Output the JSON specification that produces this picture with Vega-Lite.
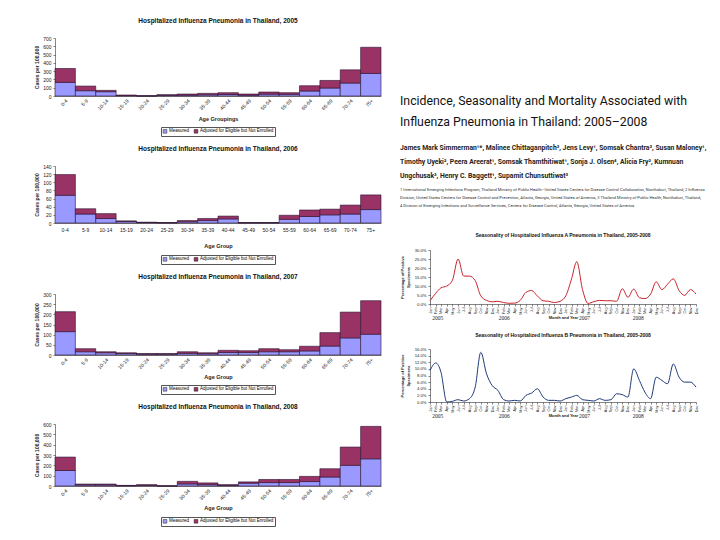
{
  "$schema": "https://vega.github.io/schema/vega-lite/v6.json",
  "background": "white",
  "padding": {"left": 34, "top": 17, "right": 4, "bottom": 4},
  "config": {
    "font": "Liberation Sans",
    "view": {"stroke": null},
    "axis": {"grid": false, "domainColor": "#333", "tickColor": "#333", "labelColor": "#222", "titleColor": "#222", "domainWidth": 0.6, "tickWidth": 0.6},
    "title": {"color": "#111"},
    "legend": {"title": null, "orient": "bottom", "direction": "horizontal", "labelFontSize": 4.5, "symbolType": "square", "symbolSize": 14, "symbolStrokeWidth": 0.5, "symbolStrokeColor": "#222", "strokeColor": "#555", "padding": 1.5, "columnPadding": 3, "labelOffset": 1.5,
               "layout": {"bottom": {"anchor": "middle"}}}
  },
  "datasets": {
    "ages": [
      {"year": 2005, "age": "0-4", "Measured": 164, "Adjusted for Eligible but Not Enrolled": 168},
      {"year": 2005, "age": "5-9", "Measured": 64, "Adjusted for Eligible but Not Enrolled": 56},
      {"year": 2005, "age": "10-14", "Measured": 52, "Adjusted for Eligible but Not Enrolled": 16},
      {"year": 2005, "age": "15-19", "Measured": 5, "Adjusted for Eligible but Not Enrolled": 7},
      {"year": 2005, "age": "20-24", "Measured": 1, "Adjusted for Eligible but Not Enrolled": 1},
      {"year": 2005, "age": "25-29", "Measured": 8, "Adjusted for Eligible but Not Enrolled": 8},
      {"year": 2005, "age": "30-34", "Measured": 10, "Adjusted for Eligible but Not Enrolled": 14},
      {"year": 2005, "age": "35-39", "Measured": 14, "Adjusted for Eligible but Not Enrolled": 18},
      {"year": 2005, "age": "40-44", "Measured": 18, "Adjusted for Eligible but Not Enrolled": 22},
      {"year": 2005, "age": "45-49", "Measured": 10, "Adjusted for Eligible but Not Enrolled": 14},
      {"year": 2005, "age": "50-54", "Measured": 22, "Adjusted for Eligible but Not Enrolled": 26},
      {"year": 2005, "age": "55-59", "Measured": 20, "Adjusted for Eligible but Not Enrolled": 20},
      {"year": 2005, "age": "60-64", "Measured": 60, "Adjusted for Eligible but Not Enrolled": 64},
      {"year": 2005, "age": "65-69", "Measured": 96, "Adjusted for Eligible but Not Enrolled": 92},
      {"year": 2005, "age": "70-74", "Measured": 156, "Adjusted for Eligible but Not Enrolled": 160},
      {"year": 2005, "age": "75+", "Measured": 272, "Adjusted for Eligible but Not Enrolled": 316},
      {"year": 2006, "age": "0-4", "Measured": 68, "Adjusted for Eligible but Not Enrolled": 51},
      {"year": 2006, "age": "5-9", "Measured": 22, "Adjusted for Eligible but Not Enrolled": 13},
      {"year": 2006, "age": "10-14", "Measured": 11, "Adjusted for Eligible but Not Enrolled": 12},
      {"year": 2006, "age": "15-19", "Measured": 4, "Adjusted for Eligible but Not Enrolled": 1},
      {"year": 2006, "age": "20-24", "Measured": 1, "Adjusted for Eligible but Not Enrolled": 1},
      {"year": 2006, "age": "25-29", "Measured": 0.5, "Adjusted for Eligible but Not Enrolled": 0.5},
      {"year": 2006, "age": "30-34", "Measured": 3, "Adjusted for Eligible but Not Enrolled": 3},
      {"year": 2006, "age": "35-39", "Measured": 6, "Adjusted for Eligible but Not Enrolled": 5},
      {"year": 2006, "age": "40-44", "Measured": 10, "Adjusted for Eligible but Not Enrolled": 7},
      {"year": 2006, "age": "45-49", "Measured": 0.5, "Adjusted for Eligible but Not Enrolled": 0.5},
      {"year": 2006, "age": "50-54", "Measured": 0.5, "Adjusted for Eligible but Not Enrolled": 0.5},
      {"year": 2006, "age": "55-59", "Measured": 9, "Adjusted for Eligible but Not Enrolled": 10},
      {"year": 2006, "age": "60-64", "Measured": 16, "Adjusted for Eligible but Not Enrolled": 16},
      {"year": 2006, "age": "65-69", "Measured": 20, "Adjusted for Eligible but Not Enrolled": 14},
      {"year": 2006, "age": "70-74", "Measured": 22, "Adjusted for Eligible but Not Enrolled": 22},
      {"year": 2006, "age": "75+", "Measured": 33, "Adjusted for Eligible but Not Enrolled": 36},
      {"year": 2007, "age": "0-4", "Measured": 115, "Adjusted for Eligible but Not Enrolled": 98},
      {"year": 2007, "age": "5-9", "Measured": 16, "Adjusted for Eligible but Not Enrolled": 15},
      {"year": 2007, "age": "10-14", "Measured": 11, "Adjusted for Eligible but Not Enrolled": 5},
      {"year": 2007, "age": "15-19", "Measured": 7, "Adjusted for Eligible but Not Enrolled": 4},
      {"year": 2007, "age": "20-24", "Measured": 4, "Adjusted for Eligible but Not Enrolled": 3},
      {"year": 2007, "age": "25-29", "Measured": 4, "Adjusted for Eligible but Not Enrolled": 3},
      {"year": 2007, "age": "30-34", "Measured": 8, "Adjusted for Eligible but Not Enrolled": 8},
      {"year": 2007, "age": "35-39", "Measured": 6, "Adjusted for Eligible but Not Enrolled": 5},
      {"year": 2007, "age": "40-44", "Measured": 12, "Adjusted for Eligible but Not Enrolled": 11},
      {"year": 2007, "age": "45-49", "Measured": 12, "Adjusted for Eligible but Not Enrolled": 9},
      {"year": 2007, "age": "50-54", "Measured": 16, "Adjusted for Eligible but Not Enrolled": 15},
      {"year": 2007, "age": "55-59", "Measured": 16, "Adjusted for Eligible but Not Enrolled": 10},
      {"year": 2007, "age": "60-64", "Measured": 20, "Adjusted for Eligible but Not Enrolled": 23},
      {"year": 2007, "age": "65-69", "Measured": 44, "Adjusted for Eligible but Not Enrolled": 66},
      {"year": 2007, "age": "70-74", "Measured": 84, "Adjusted for Eligible but Not Enrolled": 127},
      {"year": 2007, "age": "75+", "Measured": 102, "Adjusted for Eligible but Not Enrolled": 165},
      {"year": 2008, "age": "0-4", "Measured": 150, "Adjusted for Eligible but Not Enrolled": 130},
      {"year": 2008, "age": "5-9", "Measured": 10, "Adjusted for Eligible but Not Enrolled": 9},
      {"year": 2008, "age": "10-14", "Measured": 10, "Adjusted for Eligible but Not Enrolled": 9},
      {"year": 2008, "age": "15-19", "Measured": 3, "Adjusted for Eligible but Not Enrolled": 3},
      {"year": 2008, "age": "20-24", "Measured": 6, "Adjusted for Eligible but Not Enrolled": 7},
      {"year": 2008, "age": "25-29", "Measured": 0.5, "Adjusted for Eligible but Not Enrolled": 0.5},
      {"year": 2008, "age": "30-34", "Measured": 20, "Adjusted for Eligible but Not Enrolled": 25},
      {"year": 2008, "age": "35-39", "Measured": 13, "Adjusted for Eligible but Not Enrolled": 17},
      {"year": 2008, "age": "40-44", "Measured": 6, "Adjusted for Eligible but Not Enrolled": 7},
      {"year": 2008, "age": "45-49", "Measured": 27, "Adjusted for Eligible but Not Enrolled": 13},
      {"year": 2008, "age": "50-54", "Measured": 33, "Adjusted for Eligible but Not Enrolled": 30},
      {"year": 2008, "age": "55-59", "Measured": 33, "Adjusted for Eligible but Not Enrolled": 30},
      {"year": 2008, "age": "60-64", "Measured": 43, "Adjusted for Eligible but Not Enrolled": 50},
      {"year": 2008, "age": "65-69", "Measured": 87, "Adjusted for Eligible but Not Enrolled": 80},
      {"year": 2008, "age": "70-74", "Measured": 200, "Adjusted for Eligible but Not Enrolled": 177},
      {"year": 2008, "age": "75+", "Measured": 263, "Adjusted for Eligible but Not Enrolled": 314}
    ],
    "season": [
      {"month": "2005-01-01", "fluA": 1.8, "fluB": 9.5},
      {"month": "2005-02-01", "fluA": 6, "fluB": 11.8},
      {"month": "2005-03-01", "fluA": 9, "fluB": 9},
      {"month": "2005-04-01", "fluA": 10, "fluB": 0},
      {"month": "2005-05-01", "fluA": 13, "fluB": 0.2},
      {"month": "2005-06-01", "fluA": 25, "fluB": 0.7},
      {"month": "2005-07-01", "fluA": 15.5, "fluB": 0.3},
      {"month": "2005-08-01", "fluA": 15.5, "fluB": 1},
      {"month": "2005-09-01", "fluA": 13, "fluB": 4.5},
      {"month": "2005-10-01", "fluA": 4.5, "fluB": 15},
      {"month": "2005-11-01", "fluA": 2, "fluB": 8.5},
      {"month": "2005-12-01", "fluA": 1.2, "fluB": 5},
      {"month": "2006-01-01", "fluA": 1.5, "fluB": 3.5},
      {"month": "2006-02-01", "fluA": 0.8, "fluB": 0.7},
      {"month": "2006-03-01", "fluA": 0.4, "fluB": 0.3},
      {"month": "2006-04-01", "fluA": 0.5, "fluB": 0.5},
      {"month": "2006-05-01", "fluA": 2, "fluB": 0.3},
      {"month": "2006-06-01", "fluA": 6.5, "fluB": 2},
      {"month": "2006-07-01", "fluA": 7.5, "fluB": 2.7},
      {"month": "2006-08-01", "fluA": 4.5, "fluB": 4},
      {"month": "2006-09-01", "fluA": 1.8, "fluB": 1.5},
      {"month": "2006-10-01", "fluA": 1.5, "fluB": 0.5},
      {"month": "2006-11-01", "fluA": 0.8, "fluB": 0.5},
      {"month": "2006-12-01", "fluA": 1.5, "fluB": 0.3},
      {"month": "2007-01-01", "fluA": 4.5, "fluB": 1},
      {"month": "2007-02-01", "fluA": 14, "fluB": 1.5},
      {"month": "2007-03-01", "fluA": 23.5, "fluB": 2},
      {"month": "2007-04-01", "fluA": 8, "fluB": 0.7},
      {"month": "2007-05-01", "fluA": 0.3, "fluB": 0.5},
      {"month": "2007-06-01", "fluA": 1.3, "fluB": 0.3},
      {"month": "2007-07-01", "fluA": 2, "fluB": 1},
      {"month": "2007-08-01", "fluA": 1.8, "fluB": 0.5},
      {"month": "2007-09-01", "fluA": 1.8, "fluB": 0.7},
      {"month": "2007-10-01", "fluA": 1.5, "fluB": 2.5},
      {"month": "2007-11-01", "fluA": 8.5, "fluB": 2.2},
      {"month": "2007-12-01", "fluA": 3.7, "fluB": 1.5},
      {"month": "2008-01-01", "fluA": 8.3, "fluB": 10},
      {"month": "2008-02-01", "fluA": 3.5, "fluB": 6.5},
      {"month": "2008-03-01", "fluA": 3, "fluB": 3},
      {"month": "2008-04-01", "fluA": 5.5, "fluB": 1},
      {"month": "2008-05-01", "fluA": 12.3, "fluB": 7.5},
      {"month": "2008-06-01", "fluA": 8, "fluB": 6.5},
      {"month": "2008-07-01", "fluA": 11, "fluB": 5.5},
      {"month": "2008-08-01", "fluA": 14, "fluB": 11.5},
      {"month": "2008-09-01", "fluA": 7.5, "fluB": 7.5},
      {"month": "2008-10-01", "fluA": 4.8, "fluB": 6},
      {"month": "2008-11-01", "fluA": 8, "fluB": 6},
      {"month": "2008-12-01", "fluA": 5.5, "fluB": 4.5}
    ],
    "years": [
      {"month": "2005-02-12", "year": "2005"},
      {"month": "2006-02-04", "year": "2006"},
      {"month": "2007-04-12", "year": "2007"},
      {"month": "2008-01-25", "year": "2008"}
    ]
  },
  "spacing": 18,
  "hconcat": [
    {
      "spacing": 8,
      "resolve": {"scale": {"color": "independent"}, "legend": {"color": "independent"}},
      "vconcat": [
        {
          "data": {"name": "ages"},
          "transform": [{"filter": "datum.year == 2005"}, {"fold": ["Measured", "Adjusted for Eligible but Not Enrolled"], "as": ["part", "value"]}],
          "width": 326, "height": 58,
          "title": {"text": "Hospitalized Influenza Pneumonia in Thailand, 2005", "fontSize": 6.5, "fontWeight": "bold", "offset": 12},
          "mark": {"type": "bar", "stroke": "#2a1030", "strokeWidth": 0.6},
          "encoding": {
            "x": {"field": "age", "type": "ordinal", "sort": null, "scale": {"paddingInner": 0, "paddingOuter": 0},
                  "axis": {"title": "Age Groupings", "labelAngle": -45, "labelFontSize": 5, "titleFontSize": 5.5, "titleFontWeight": "bold", "ticks": false, "labelPadding": 2, "titlePadding": 6}},
            "y": {"field": "value", "type": "quantitative", "stack": "zero", "scale": {"domain": [0, 700]},
                  "axis": {"tickCount": 7, "title": "Cases per 100,000", "labelFontSize": 5, "titleFontSize": 5, "titleFontWeight": "bold", "tickSize": 2, "labelPadding": 2, "titlePadding": 3}},
            "color": {"field": "part", "type": "nominal", "scale": {"domain": ["Measured", "Adjusted for Eligible but Not Enrolled"], "range": ["#9999FF", "#993366"]}, "legend": {"offset": 4}},
            "order": {"field": "part", "sort": "descending"}
          }
        },
        {
          "data": {"name": "ages"},
          "transform": [{"filter": "datum.year == 2006"}, {"fold": ["Measured", "Adjusted for Eligible but Not Enrolled"], "as": ["part", "value"]}],
          "width": 326, "height": 57,
          "title": {"text": "Hospitalized Influenza Pneumonia in Thailand, 2006", "fontSize": 6.5, "fontWeight": "bold", "offset": 12},
          "mark": {"type": "bar", "stroke": "#2a1030", "strokeWidth": 0.6},
          "encoding": {
            "x": {"field": "age", "type": "ordinal", "sort": null, "scale": {"paddingInner": 0, "paddingOuter": 0},
                  "axis": {"title": "Age Group", "labelAngle": 0, "labelFontSize": 5, "titleFontSize": 5.5, "titleFontWeight": "bold", "ticks": false, "labelPadding": 4, "titlePadding": 11}},
            "y": {"field": "value", "type": "quantitative", "stack": "zero", "scale": {"domain": [0, 140]},
                  "axis": {"tickCount": 7, "title": "Cases per 100,000", "labelFontSize": 5, "titleFontSize": 5, "titleFontWeight": "bold", "tickSize": 2, "labelPadding": 2, "titlePadding": 3}},
            "color": {"field": "part", "type": "nominal", "scale": {"domain": ["Measured", "Adjusted for Eligible but Not Enrolled"], "range": ["#9999FF", "#993366"]}, "legend": {"offset": 6}},
            "order": {"field": "part", "sort": "descending"}
          }
        },
        {
          "data": {"name": "ages"},
          "transform": [{"filter": "datum.year == 2007"}, {"fold": ["Measured", "Adjusted for Eligible but Not Enrolled"], "as": ["part", "value"]}],
          "width": 326, "height": 61,
          "title": {"text": "Hospitalized Influenza Pneumonia in Thailand, 2007", "fontSize": 6.5, "fontWeight": "bold", "offset": 12},
          "mark": {"type": "bar", "stroke": "#2a1030", "strokeWidth": 0.6},
          "encoding": {
            "x": {"field": "age", "type": "ordinal", "sort": null, "scale": {"paddingInner": 0, "paddingOuter": 0},
                  "axis": {"title": "Age Group", "labelAngle": -45, "labelFontSize": 5, "titleFontSize": 5.5, "titleFontWeight": "bold", "ticks": false, "labelPadding": 2, "titlePadding": 5}},
            "y": {"field": "value", "type": "quantitative", "stack": "zero", "scale": {"domain": [0, 300]},
                  "axis": {"tickCount": 6, "title": "Cases per 100,000", "labelFontSize": 5, "titleFontSize": 5, "titleFontWeight": "bold", "tickSize": 2, "labelPadding": 2, "titlePadding": 3}},
            "color": {"field": "part", "type": "nominal", "scale": {"domain": ["Measured", "Adjusted for Eligible but Not Enrolled"], "range": ["#9999FF", "#993366"]}, "legend": {"offset": 4}},
            "order": {"field": "part", "sort": "descending"}
          }
        },
        {
          "data": {"name": "ages"},
          "transform": [{"filter": "datum.year == 2008"}, {"fold": ["Measured", "Adjusted for Eligible but Not Enrolled"], "as": ["part", "value"]}],
          "width": 326, "height": 62,
          "title": {"text": "Hospitalized Influenza Pneumonia in Thailand, 2008", "fontSize": 6.5, "fontWeight": "bold", "offset": 12},
          "mark": {"type": "bar", "stroke": "#2a1030", "strokeWidth": 0.6},
          "encoding": {
            "x": {"field": "age", "type": "ordinal", "sort": null, "scale": {"paddingInner": 0, "paddingOuter": 0},
                  "axis": {"title": "Age Group", "labelAngle": -45, "labelFontSize": 5, "titleFontSize": 5.5, "titleFontWeight": "bold", "ticks": false, "labelPadding": 2, "titlePadding": 5}},
            "y": {"field": "value", "type": "quantitative", "stack": "zero", "scale": {"domain": [0, 600]},
                  "axis": {"tickCount": 6, "title": "Cases per 100,000", "labelFontSize": 5, "titleFontSize": 5, "titleFontWeight": "bold", "tickSize": 2, "labelPadding": 2, "titlePadding": 3}},
            "color": {"field": "part", "type": "nominal", "scale": {"domain": ["Measured", "Adjusted for Eligible but Not Enrolled"], "range": ["#9999FF", "#993366"]}, "legend": {"offset": 5}},
            "order": {"field": "part", "sort": "descending"}
          }
        }
      ]
    },
    {
      "spacing": 0,
      "vconcat": [
        {
          "data": {"values": [
            {"line": 1, "text": "Incidence, Seasonality and Mortality Associated with"},
            {"line": 2, "text": "Influenza Pneumonia in Thailand: 2005–2008"}
          ]},
          "width": 276, "height": 95,
          "mark": {"type": "text", "align": "left", "baseline": "middle", "font": "Roboto", "fontSize": 12.3, "color": "#111", "dx": -30},
          "encoding": {
            "y": {"field": "line", "type": "quantitative", "axis": null, "scale": {"domain": [-2, 2.524], "reverse": true, "nice": false, "zero": false}},
            "x": {"value": 0},
            "text": {"field": "text"}
          }
        },
        {
          "data": {"values": [
            {"line": 1, "text": "James Mark Simmerman¹*, Malinee Chittaganpitch³, Jens Levy¹, Somsak Chantra³, Susan Maloney¹,"},
            {"line": 2, "text": "Timothy Uyeki², Peera Areerat¹, Somsak Thamthitiwat¹, Sonja J. Olsen⁴, Alicia Fry², Kumnuan"},
            {"line": 3, "text": "Ungchusak³, Henry C. Baggett¹, Supamit Chunsuttiwat³"}
          ]},
          "width": 276, "height": 50,
          "mark": {"type": "text", "align": "left", "baseline": "middle", "font": "Roboto", "fontWeight": "bold", "fontSize": 6.8, "color": "#222", "dx": -30},
          "encoding": {
            "y": {"field": "line", "type": "quantitative", "axis": null, "scale": {"domain": [-0.0714, 3.5], "reverse": true, "nice": false, "zero": false}},
            "x": {"value": 0},
            "text": {"field": "text"}
          }
        },
        {
          "data": {"values": [
            {"line": 1, "text": "1 International Emerging Infections Program, Thailand Ministry of Public Health–United States Centers for Disease Control Collaboration, Nonthaburi, Thailand, 2 Influenza"},
            {"line": 2, "text": "Division, United States Centers for Disease Control and Prevention, Atlanta, Georgia, United States of America, 3 Thailand Ministry of Public Health, Nonthaburi, Thailand,"},
            {"line": 3, "text": "4 Division of Emerging Infections and Surveillance Services, Centers for Disease Control, Atlanta, Georgia, United States of America"}
          ]},
          "width": 276, "height": 50,
          "mark": {"type": "text", "align": "left", "baseline": "middle", "font": "Roboto", "fontSize": 4.05, "color": "#333", "dx": -30},
          "encoding": {
            "y": {"field": "line", "type": "quantitative", "axis": null, "scale": {"domain": [0.125, 6.375], "reverse": true, "nice": false, "zero": false}},
            "x": {"value": 0},
            "text": {"field": "text"}
          }
        },
        {
          "spacing": 11,
          "vconcat": [
            {
              "width": 266, "height": 54,
              "title": {"text": "Seasonality of Hospitalized Influenza A Pneumonia in Thailand, 2005-2008", "fontSize": 5, "fontWeight": "bold", "offset": 10},
              "layer": [
                {
                  "data": {"name": "season"},
                  "mark": {"type": "line", "interpolate": "monotone", "color": "#C8232C", "strokeWidth": 1},
                  "encoding": {
                    "x": {"field": "month", "type": "temporal", "scale": {"type": "utc"},
                          "axis": {"title": "Month and Year", "labelExpr": "utcFormat(datum.value, '%b')", "tickCount": {"interval": "month", "step": 1}, "labelAngle": -90, "labelFontSize": 3.8, "labelOverlap": false, "labelPadding": 1, "tickSize": 2, "titleFontSize": 4, "titleFontWeight": "bold", "titlePadding": 1}},
                    "y": {"field": "fluA", "type": "quantitative", "scale": {"domain": [0, 30]},
                          "axis": {"title": ["Percentage of Positive", "Specimens"], "tickCount": 7, "labelExpr": "format(datum.value, '.1f') + '%'", "labelFontSize": 4.2, "titleFontSize": 4, "titleFontWeight": "bold", "tickSize": 2, "labelPadding": 2, "titlePadding": 4}}
                  }
                },
                {
                  "data": {"name": "years"},
                  "mark": {"type": "text", "font": "Liberation Serif", "fontSize": 5.5, "color": "#222"},
                  "encoding": {
                    "x": {"field": "month", "type": "temporal", "scale": {"type": "utc"}},
                    "y": {"datum": -7.8},
                    "text": {"field": "year"}
                  }
                }
              ]
            },
            {
              "width": 266, "height": 53,
              "title": {"text": "Seasonality of Hospitalized Influenza B Pneumonia in Thailand, 2005-2008", "fontSize": 5, "fontWeight": "bold", "offset": 9},
              "layer": [
                {
                  "data": {"name": "season"},
                  "mark": {"type": "line", "interpolate": "monotone", "color": "#1F3A78", "strokeWidth": 1},
                  "encoding": {
                    "x": {"field": "month", "type": "temporal", "scale": {"type": "utc"},
                          "axis": {"title": "Month and Year", "labelExpr": "utcFormat(datum.value, '%b')", "tickCount": {"interval": "month", "step": 1}, "labelAngle": -90, "labelFontSize": 3.8, "labelOverlap": false, "labelPadding": 1, "tickSize": 2, "titleFontSize": 4, "titleFontWeight": "bold", "titlePadding": 1}},
                    "y": {"field": "fluB", "type": "quantitative", "scale": {"domain": [0, 16]},
                          "axis": {"title": ["Percentage of Positive", "Specimens"], "tickCount": 9, "labelExpr": "format(datum.value, '.1f') + '%'", "labelFontSize": 4.2, "titleFontSize": 4, "titleFontWeight": "bold", "tickSize": 2, "labelPadding": 2, "titlePadding": 4}}
                  }
                },
                {
                  "data": {"name": "years"},
                  "mark": {"type": "text", "font": "Liberation Serif", "fontSize": 5.5, "color": "#222"},
                  "encoding": {
                    "x": {"field": "month", "type": "temporal", "scale": {"type": "utc"}},
                    "y": {"datum": -4.2},
                    "text": {"field": "year"}
                  }
                }
              ]
            }
          ]
        }
      ]
    }
  ]
}
